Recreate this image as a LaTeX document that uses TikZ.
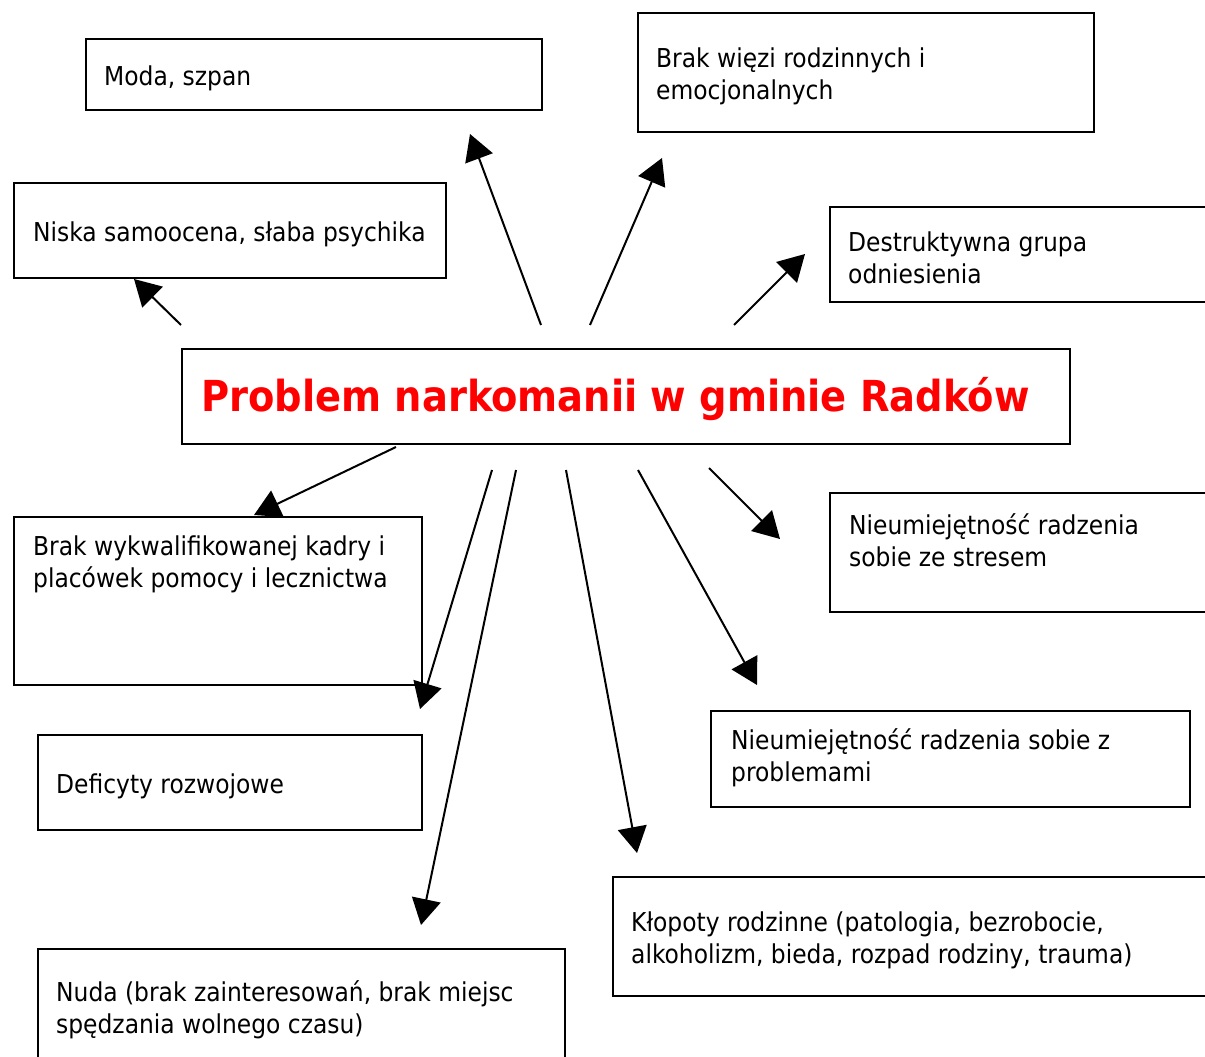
\documentclass[tikz,border=0pt]{standalone}
\usepackage{fontspec}
\setmainfont{DejaVu Sans Condensed}
\usetikzlibrary{arrows.meta,positioning}
\definecolor{TitleRed}{HTML}{FF0000}
\tikzset{
  causebox/.style={draw=black, line width=2.3pt, anchor=north west, inner sep=0pt},
  causetxt/.style={anchor=west, align=left, inner sep=0pt, yshift=-3pt,
    font=\fontsize{26}{32}\selectfont},
  titletxt/.style={anchor=west, inner sep=0pt, text=TitleRed,
    font=\fontsize{42.7}{50}\selectfont\bfseries},
  bigarr/.style={-{Triangle[length=26pt,width=29pt]}, line width=2pt},
}

\begin{document}
\begin{tikzpicture}[x=1pt,y=-1pt]
  \clip (0,0) rectangle (1205,1057);
  % central problem
  \node[causebox, minimum width=888, minimum height=95] (prob) at (181,348) {};
  \node[titletxt] (probTxt) at (201,399) {Problem narkomanii w gminie Radków};

  % boxes round it
  \node[causebox, minimum width=456, minimum height=71] (moda) at (85,38) {};
  \node[causetxt] (modaTxt) at (104,75) {Moda, szpan};
  \node[causebox, minimum width=456, minimum height=119] (wiezi) at (637,12) {};
  \node[causetxt] (wieziTxt) at (656,73) {Brak więzi rodzinnych i\\emocjonalnych};
  \node[causebox, minimum width=432, minimum height=95] (niska) at (13,182) {};
  \node[causetxt] (niskaTxt) at (33,231) {Niska samoocena, słaba psychika};
  \node[causebox, minimum width=400, minimum height=95] (destr) at (829,206) {};
  \node[causetxt] (destrTxt) at (848,255) {Destruktywna grupa\\odniesienia};
  \node[causebox, minimum width=408, minimum height=168] (kadra) at (13,516) {};
  \node[causetxt] (kadraTxt) at (33,561) {Brak wykwalifikowanej kadry i\\placówek pomocy i lecznictwa};
  \node[causebox, minimum width=400, minimum height=119] (stres) at (829,492) {};
  \node[causetxt] (stresTxt) at (849,537) {Nieumiejętność radzenia\\sobie ze stresem};
  \node[causebox, minimum width=384, minimum height=95] (defic) at (37,734) {};
  \node[causetxt] (deficTxt) at (56,783) {Deficyty rozwojowe};
  \node[causebox, minimum width=479, minimum height=96] (probl) at (710,710) {};
  \node[causetxt] (problTxt) at (731,755) {Nieumiejętność radzenia sobie z\\problemami};
  \node[causebox, minimum width=620, minimum height=119] (klopot) at (612,876) {};
  \node[causetxt] (klopotTxt) at (631,937) {Kłopoty rodzinne (patologia, bezrobocie,\\alkoholizm, bieda, rozpad rodziny, trauma)};
  \node[causebox, minimum width=527, minimum height=140] (nuda) at (37,948) {};
  \node[causetxt] (nudaTxt) at (56,1007) {Nuda (brak zainteresowań, brak miejsc\\spędzania wolnego czasu)};

  % arrow ends
  \coordinate (modaFrom) at (541,325);   \coordinate (modaTo) at (470,134);
  \coordinate (wieziFrom) at (590,325);  \coordinate (wieziTo) at (662,158);
  \coordinate (niskaFrom) at (181,325);  \coordinate (niskaTo) at (134,279);
  \coordinate (destrFrom) at (734,325);  \coordinate (destrTo) at (805,254);
  \coordinate (kadraFrom) at (396,447);  \coordinate (kadraTo) at (254,515);
  \coordinate (deficFrom) at (492,470);  \coordinate (deficTo) at (420,709);
  \coordinate (nudaFrom) at (516,470);   \coordinate (nudaTo) at (421,925);
  \coordinate (klopotFrom) at (566,470); \coordinate (klopotTo) at (637,853);
  \coordinate (problFrom) at (638,470);  \coordinate (problTo) at (757,685);
  \coordinate (stresFrom) at (709,468);  \coordinate (stresTo) at (780,539);

  \foreach \c in {moda,wiezi,niska,destr,kadra,defic,nuda,klopot,probl,stres}
    \draw[bigarr] (\c From) -- (\c To);
\end{tikzpicture}
\end{document}
